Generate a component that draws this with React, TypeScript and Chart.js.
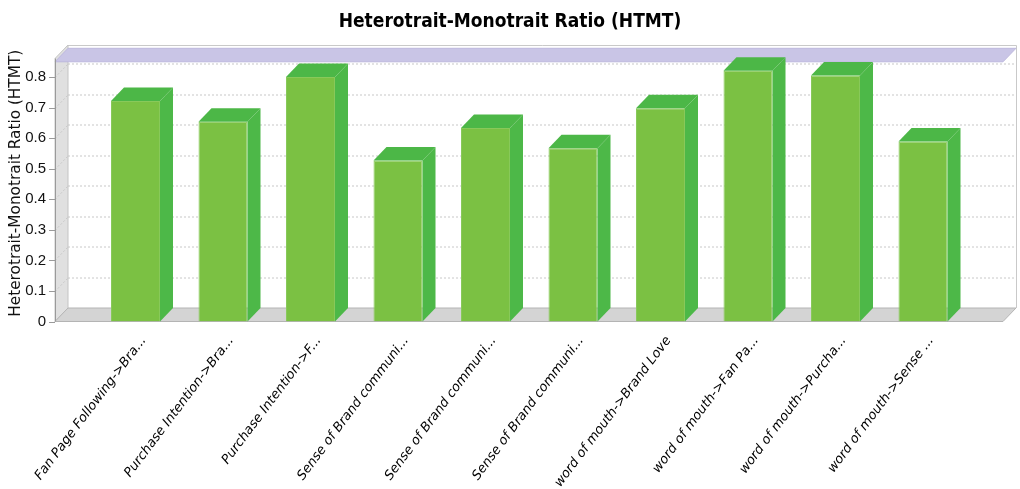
import React, { useEffect, useRef } from 'react';
import { Chart, registerables } from 'chart.js';

Chart.register(...registerables);

// ---- data ----
const chartTitle = 'Heterotrait-Monotrait Ratio (HTMT)';
const yAxisTitle = 'Heterotrait-Monotrait Ratio (HTMT)';
const categories = [
  'Fan Page Following->Bra...',
  'Purchase Intention->Bra...',
  'Purchase Intention->F...',
  'Sense of Brand communi...',
  'Sense of Brand communi...',
  'Sense of Brand communi...',
  'word of mouth->Brand Love',
  'word of mouth->Fan Pa...',
  'word of mouth->Purcha...',
  'word of mouth->Sense ...',
];
const htmtValues = [0.722, 0.654, 0.8, 0.527, 0.633, 0.567, 0.698, 0.821, 0.805, 0.589];
const yTickValues = [0, 0.1, 0.2, 0.3, 0.4, 0.5, 0.6, 0.7, 0.8];
const yMin = 0;
const yMax = 0.905;
const thresholdValue = 0.85;

// ---- 3D look ----
const DX = 13;
const DY = 13.5;
const PLOT_LEFT = 55;
const PLOT_RIGHT = 1003;

const poly = (ctx: CanvasRenderingContext2D, pts: number[][], fill?: string, stroke?: string) => {
  ctx.beginPath();
  ctx.moveTo(pts[0][0], pts[0][1]);
  for (let i = 1; i < pts.length; i++) ctx.lineTo(pts[i][0], pts[i][1]);
  ctx.closePath();
  if (fill) {
    ctx.fillStyle = fill;
    ctx.fill();
  }
  if (stroke) {
    ctx.strokeStyle = stroke;
    ctx.lineWidth = 1;
    ctx.stroke();
  }
};

const plot3d = {
  id: 'plot3d',
  beforeDatasetsDraw(chart: any) {
    const { ctx, chartArea: ca, scales } = chart;
    const ys = scales.y;
    const L = PLOT_LEFT;
    const R = PLOT_RIGHT;
    const B = ys.getPixelForValue(0);
    const top = ca.top;
    ctx.save();
    // back wall
    ctx.fillStyle = '#ffffff';
    ctx.fillRect(L + DX, top, R - L, B - DY - top);
    ctx.strokeStyle = '#c9c9c9';
    ctx.lineWidth = 1;
    ctx.beginPath();
    ctx.moveTo(L + DX, top + 0.5);
    ctx.lineTo(R + DX + 0.5, top + 0.5);
    ctx.lineTo(R + DX + 0.5, B - DY);
    ctx.stroke();
    // left wall and floor
    poly(ctx, [[L, top + DY], [L + DX, top], [L + DX, B - DY], [L, B]], '#e0e0e0', '#c4c4c4');
    poly(ctx, [[L, B], [L + DX, B - DY], [R + DX, B - DY], [R, B]], '#d4d4d4', '#b4b4b4');
    // dotted grid lines on the back wall and the left wall
    ctx.setLineDash([2, 2]);
    ctx.strokeStyle = '#c8c8c8';
    for (const v of yTickValues) {
      if (v === 0) continue;
      const py = Math.round(ys.getPixelForValue(v)) + 0.5;
      ctx.beginPath();
      ctx.moveTo(L + DX, py - DY);
      ctx.lineTo(R + DX, py - DY);
      ctx.stroke();
      ctx.beginPath();
      ctx.moveTo(L, py);
      ctx.lineTo(L + DX, py - DY);
      ctx.stroke();
    }
    ctx.setLineDash([]);
    // threshold marker plane
    const my = ys.getPixelForValue(thresholdValue);
    poly(ctx, [[L, my], [L + DX, my - DY], [R + DX, my - DY], [R, my]], '#c9c5e6', '#bdb8de');
    // y axis line and tick marks
    ctx.strokeStyle = '#9a9a9a';
    ctx.beginPath();
    ctx.moveTo(L + 0.5, top + DY);
    ctx.lineTo(L + 0.5, B);
    for (const v of yTickValues) {
      const py = Math.round(ys.getPixelForValue(v)) + 0.5;
      ctx.moveTo(L - 6, py);
      ctx.lineTo(L, py);
    }
    ctx.stroke();
    ctx.restore();
  },
  afterDatasetsDraw(chart: any) {
    const { ctx } = chart;
    const meta = chart.getDatasetMeta(0);
    ctx.save();
    meta.data.forEach((bar: any) => {
      const { x, y, base, width } = bar.getProps(['x', 'y', 'base', 'width'], true);
      const l = x - width / 2;
      const r = x + width / 2;
      poly(ctx, [[r, y], [r + DX, y - DY], [r + DX, base - DY], [r, base]], '#4db848');
      poly(ctx, [[l, y], [l + DX, y - DY], [r + DX, y - DY], [r, y]], '#4cb747');
    });
    ctx.restore();
  },
};

export default function App() {
  const ref = useRef<HTMLCanvasElement>(null);
  useEffect(() => {
    if (!ref.current) return;
    const chart = new Chart(ref.current, {
      type: 'bar',
      data: {
        labels: categories,
        datasets: [
          {
            label: yAxisTitle,
            data: htmtValues,
            backgroundColor: '#7bc143',
            borderColor: '#88c95a',
            borderWidth: 1,
            barPercentage: 0.56,
            categoryPercentage: 1,
          },
        ],
      },
      plugins: [plot3d],
      options: {
        responsive: false,
        animation: false,
        devicePixelRatio: 1,
        layout: { padding: 0 },
        plugins: {
          legend: { display: false },
          tooltip: { enabled: false },
          title: {
            display: true,
            text: chartTitle,
            color: '#000',
            font: { family: "'DejaVu Sans Condensed', sans-serif", weight: 'bold', size: 19 },
            padding: { top: 10.4, bottom: 11.8 },
          },
        },
        scales: {
          x: {
            offset: true,
            grid: { display: false },
            border: { display: false },
            ticks: {
              autoSkip: false,
              minRotation: 53,
              maxRotation: 53,
              labelOffset: 8,
              padding: 4,
              color: '#000',
              font: { family: "'DejaVu Sans', sans-serif", style: 'italic', size: 13 },
            },
            afterFit: (s: any) => {
              s.height = 167.5;
              s.paddingLeft = 0;
              s.paddingRight = 53.25;
            },
          },
          y: {
            min: yMin,
            max: yMax,
            grid: { display: false, drawTicks: false },
            border: { display: false },
            ticks: {
              padding: 45.75,
              color: '#111',
              font: { family: "'Liberation Sans', Arial, sans-serif", size: 15 },
              callback: (v: any) => (Number(v) === 0 ? '0' : Number(v).toFixed(1)),
            },
            afterBuildTicks: (s: any) => {
              s.ticks = yTickValues.map((v) => ({ value: v }));
            },
            afterFit: (s: any) => {
              s.width = 91.75;
              s.paddingTop = 0;
              s.paddingBottom = 0;
            },
            title: {
              display: true,
              text: yAxisTitle,
              color: '#111',
              font: { family: "'DejaVu Sans', sans-serif", size: 15.3 },
              padding: { top: 7, bottom: 0 },
            },
          },
        },
      },
    });
    return () => chart.destroy();
  }, []);
  return (
    <div style={{ position: 'fixed', left: 0, top: 0, width: 1020, height: 489, background: '#fff' }}>
      <canvas ref={ref} width={1020} height={489} style={{ display: 'block' }} />
    </div>
  );
}
